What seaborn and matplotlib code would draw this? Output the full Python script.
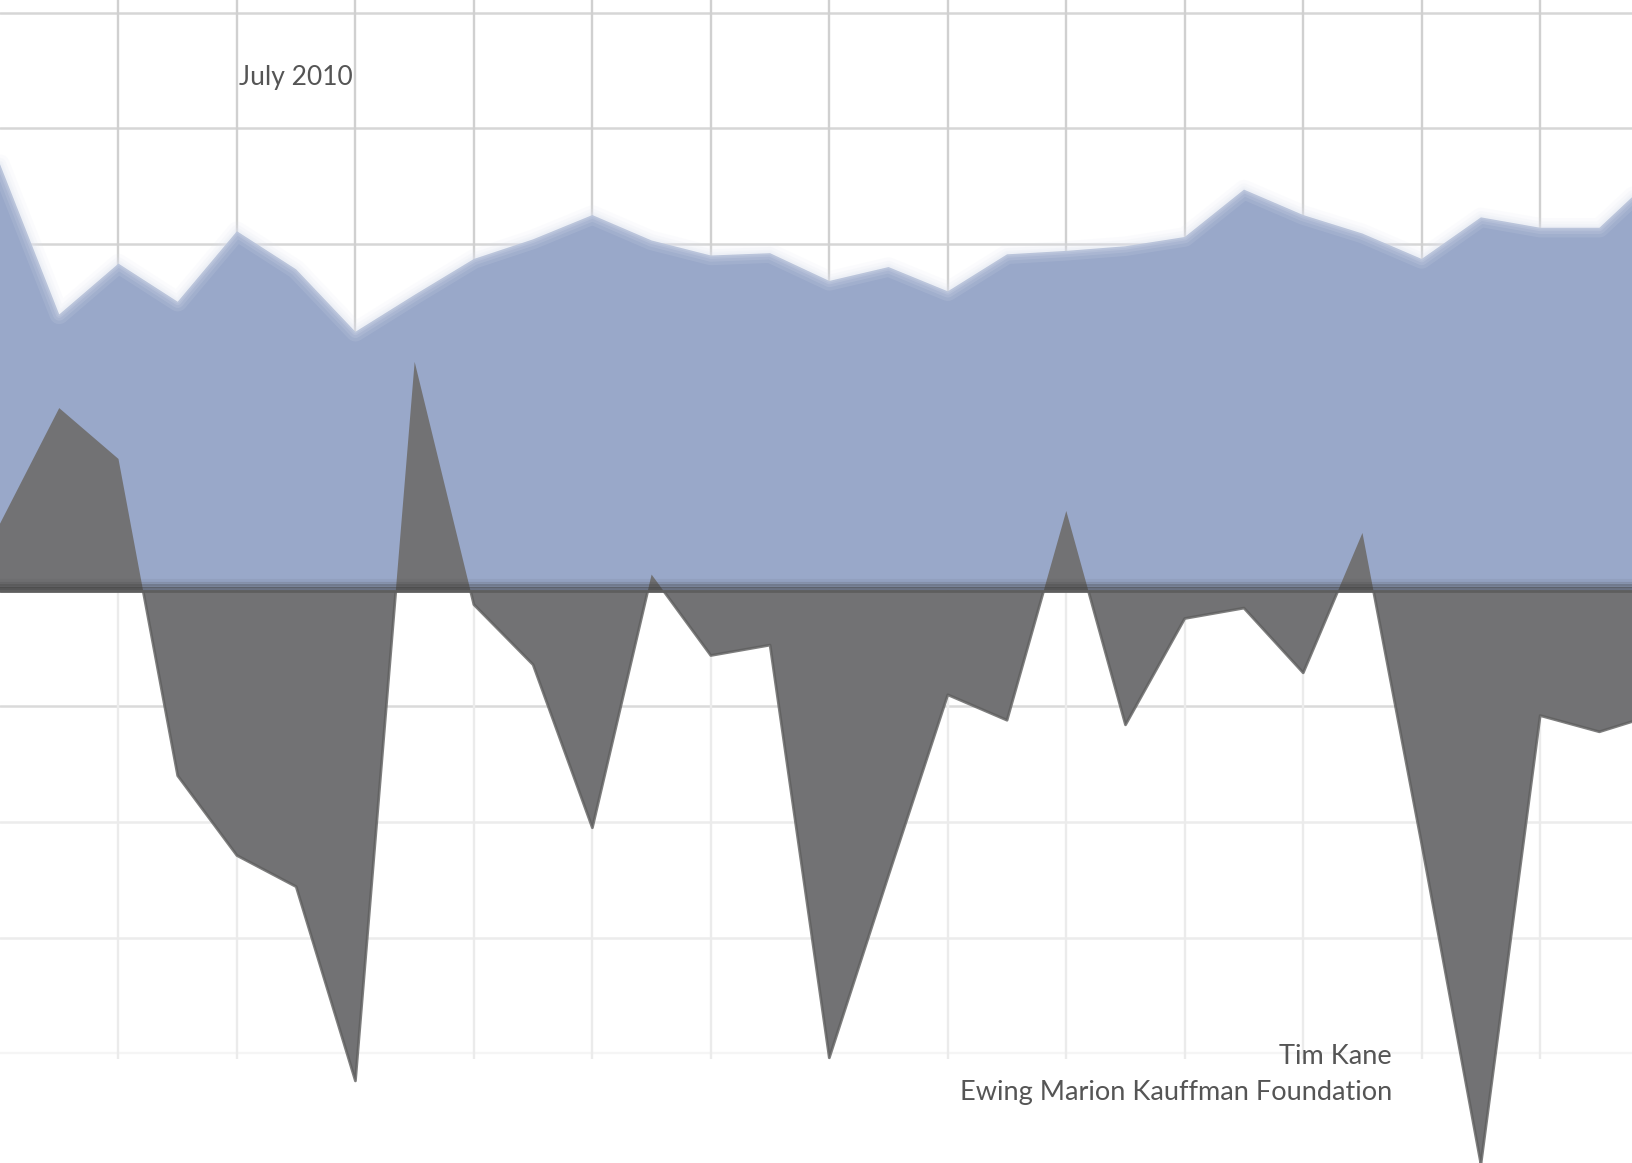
import numpy as np
import pandas as pd
import matplotlib
matplotlib.use("Agg")
import matplotlib.pyplot as plt
import seaborn as sns
from matplotlib.patches import Rectangle

# ---- data (grid units; one grid cell = 1 unit, two periods per cell) ----
period = list(range(29))
blue_series = [3.69, 2.39, 2.83, 2.50, 3.11, 2.78, 2.24, 2.56, 2.87, 3.04,
               3.25, 3.03, 2.90, 2.92, 2.68, 2.80, 2.59, 2.91, 2.94, 2.98,
               3.06, 3.47, 3.25, 3.09, 2.87, 3.23, 3.14, 3.14, 3.62]
gray_series = [0.58, 1.58, 1.14, -1.60, -2.29, -2.56, -4.24, 1.98, -0.12, -0.64,
               -2.05, 0.14, -0.56, -0.47, -4.04, -2.46, -0.90, -1.12, 0.69, -1.16,
               -0.24, -0.15, -0.71, 0.50, -2.19, -4.96, -1.08, -1.22, -1.06]
date_text = "July 2010"
author_text = "Tim Kane"
org_text = "Ewing Marion Kauffman Foundation"

df = pd.DataFrame({"period": period, "blue": blue_series, "gray": gray_series})

sns.set_theme(style="white")
plt.rcParams["font.family"] = ["Lato", "DejaVu Sans"]

fig = plt.figure(figsize=(16.32, 11.63), dpi=100)
ax = fig.add_axes([0, 0, 1, 1])
XMAX = 27.55
YMIN, YMAX = -4.95, 5.11
ax.set_xlim(0, XMAX)
ax.set_ylim(YMIN, YMAX)
ax.set_axis_off()

# ---- grid ----
for yv in [5, 4, 3, 2, 1]:
    ax.axhline(yv, color="#d6d6d6", lw=1.8, zorder=1)
ax.axhline(-1, color="#dadada", lw=1.8, zorder=1)
for yv in [-2, -3]:
    ax.axhline(yv, color="#ececec", lw=1.8, zorder=1)
ax.axhline(-4, color="#f5f5f5", lw=1.6, zorder=1)
for xv in range(2, 28, 2):
    ax.vlines(xv, 0, YMAX, color="#d0d0d0", lw=1.7, zorder=1)
    ax.vlines(xv, -4.05, 0, color="#ebebeb", lw=1.7, zorder=1)

# ---- blue area ----
ax.fill_between(df["period"], 0, df["blue"], color="#99a8c9", lw=0, zorder=2)
for w, a in [(14, 0.12), (9, 0.15), (5, 0.18), (2.5, 0.2)]:
    sns.lineplot(data=df, x="period", y="blue", ax=ax, color="#dfe4ef", lw=w,
                 alpha=a, zorder=3, legend=False)

# ---- gray area ----
ax.fill_between(df["period"], 0, df["gray"], color="#727274", lw=0, zorder=4)
edge = sns.lineplot(data=df, x="period", y="gray", ax=ax, color="#5e5e5e",
                    lw=2.0, alpha=0.8, zorder=5, legend=False)
clip = Rectangle((0, YMIN), XMAX, -YMIN, transform=ax.transData)
edge.lines[-1].set_clip_path(clip)

# ---- zero line shading ----
for k, a in enumerate([0.5, 0.3, 0.16, 0.07]):
    ax.axhline(0.012 + k * 0.025, color="#3c3c3c", lw=3, alpha=a, zorder=6)
ax.axhline(0, color="#5e5e5e", lw=2, zorder=6)

# ---- text ----
fig.text(0.1465, 0.927, date_text, fontsize=19, color="#555555",
         ha="left", va="baseline", zorder=10)
fig.text(0.853, 0.085, author_text, fontsize=19.5, color="#555555",
         ha="right", va="baseline", zorder=10)
fig.text(0.853, 0.054, org_text, fontsize=19.5, color="#555555",
         ha="right", va="baseline", zorder=10)

fig.savefig("out.png", dpi=100, facecolor="white")
